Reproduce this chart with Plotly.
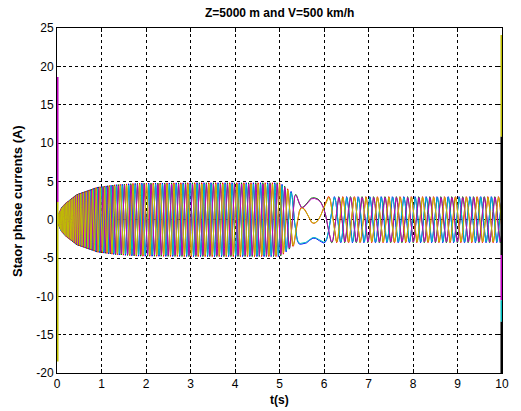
import numpy as np
import plotly.graph_objects as go

# ---- values ----
# apparent oscillation frequency (Hz) of the phase currents vs time (s)
F_T  = [0.0, 0.3, 0.6, 1.0, 1.5, 2.0, 5.0, 5.15, 5.3, 5.42, 5.5, 5.63, 5.77, 6.0, 6.15, 6.35, 10.0]
F_HZ = [40.0, 28.0, 16.0, 10.0, 7.0, 6.5, 6.2, 5.0, 3.5, 1.5, 0.0, -0.8, 0.0, 1.0, 2.5, 3.8, 4.2]
# current envelope (A) vs time (s)
A_T = [0.0, 0.05, 0.1, 0.2, 0.45, 0.7, 0.9, 1.3, 1.8, 3.0, 5.0, 5.1, 5.2, 5.35, 5.6, 6.2, 10.0]
A_V = [0.0, 0.9, 1.5, 2.1, 3.2, 3.7, 4.1, 4.4, 4.6, 4.65, 4.65, 4.3, 3.8, 3.2, 3.0, 2.9, 2.9]
# phase angle (deg) of phase A at the slow transient t = 5.5 s
PHASE_AT_55 = 180.0
PHASE_SHIFTS = [0.0, -120.0, 120.0]          # phases A, B, C
COPY_GAIN = [1.035, 1.0]                      # under-copy, top-copy
SERIES_COLORS = [["#0000ff", "#008000", "#ff0000"],        # first plotted set
                 ["#00bfbf", "#bf00bf", "#bfbf00"]]        # second plotted set
# vertical spikes at the borders: (x, y_from, y_to, colour)
SPIKES = [
    (0.0, 18.6, 2.3, "#bf00bf"),
    (0.0, 2.3, -18.5, "#bfbf00"),
    (10.0, 24.1, 10.8, "#bfbf00"),
    (10.0, 10.8, -4.6, "#000000"),
    (10.0, -4.6, -10.5, "#bf00bf"),
    (10.0, -10.5, -13.3, "#00bfbf"),
    (10.0, -13.3, -20.0, "#000000"),
]
SPIKE_NUDGE = 0.012   # keep the border spikes inside the clipped plot area
X_TICKS = list(range(0, 11))
Y_TICKS = list(range(-20, 26, 5))

# ---- build waveforms ----
dt = 0.001
t = np.arange(0.0, 10.0 + dt / 2, dt)
f = np.interp(t, F_T, F_HZ)
amp = np.interp(t, A_T, A_V)
phi = 2 * np.pi * np.cumsum(f) * dt
phi += np.deg2rad(PHASE_AT_55) - np.interp(5.5, t, phi)

fig = go.Figure()
for k, gain in enumerate(COPY_GAIN):
    for p, sh in enumerate(PHASE_SHIFTS):
        y = gain * amp * np.cos(phi + np.deg2rad(sh))
        fig.add_trace(go.Scatter(x=t, y=y, mode="lines",
                                 line=dict(color=SERIES_COLORS[k][p], width=1),
                                 hoverinfo="skip", showlegend=False))

for (xs, y0, y1, c) in SPIKES:
    xv = xs + SPIKE_NUDGE if xs == 0 else xs - SPIKE_NUDGE
    fig.add_trace(go.Scatter(x=[xv, xv], y=[y0, y1], mode="lines",
                             line=dict(color=c, width=2),
                             hoverinfo="skip", showlegend=False))

axis_common = dict(showline=True, linecolor="black", linewidth=1, mirror="ticks",
                   ticks="inside", ticklen=4, tickcolor="black",
                   showgrid=True, gridcolor="black", gridwidth=1, griddash="3px,3px",
                   zeroline=False, layer="below traces",
                   tickfont=dict(family="Liberation Sans, Arial", size=12, color="black"))

fig.update_xaxes(range=[0, 10], tickvals=X_TICKS, ticktext=[str(v) for v in X_TICKS],
                 **axis_common)
fig.update_yaxes(range=[-20, 25], tickvals=Y_TICKS, ticktext=[str(v) for v in Y_TICKS],
                 **axis_common)

fig.update_layout(
    width=521, height=411,
    margin=dict(l=57, r=15, t=28, b=38),
    paper_bgcolor="white", plot_bgcolor="white",
    showlegend=False,
    annotations=[
        dict(text="<b>Z=5000 m and V=500 km/h</b>", x=0.5, y=1, xref="paper", yref="paper",
             xanchor="center", yanchor="bottom", yshift=6, showarrow=False,
             font=dict(family="Liberation Sans, Arial", size=12, color="black")),
        dict(text="<b>t(s)</b>", x=0.5, y=0, xref="paper", yref="paper",
             xanchor="center", yanchor="top", yshift=-18, showarrow=False,
             font=dict(family="Liberation Sans, Arial", size=12, color="black")),
        dict(text="<b>Staor phase currents (A)</b>", x=0, y=0.5, xref="paper", yref="paper",
             xanchor="right", yanchor="middle", xshift=-30, textangle=-90, showarrow=False,
             font=dict(family="Liberation Sans, Arial", size=13, color="black")),
    ],
)

fig.write_html("out.html")
